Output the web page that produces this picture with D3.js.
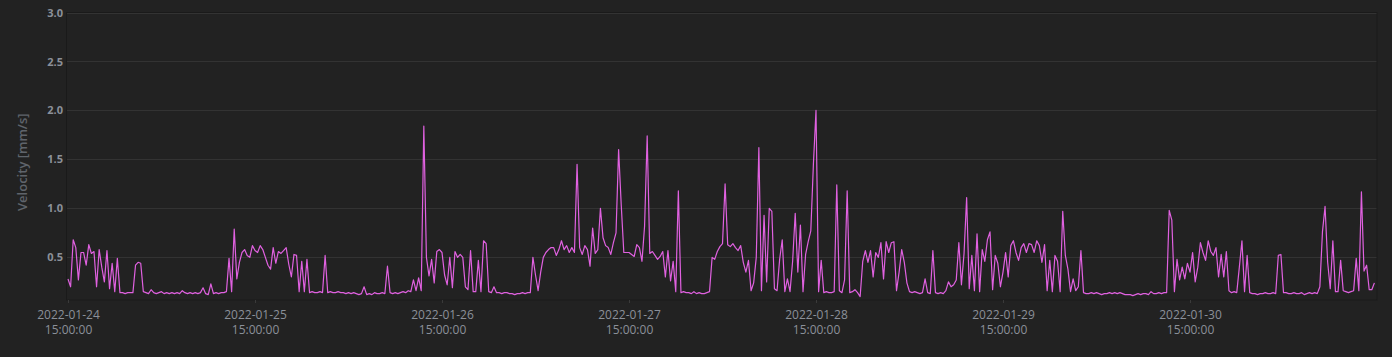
<!DOCTYPE html>
<html><head><meta charset="utf-8">
<script src="https://cdn.jsdelivr.net/npm/d3@7"></script>
<style>
html,body{margin:0;padding:0;background:#222222;}
svg{display:block;}
text{font-family:"Open Sans","Noto Sans",sans-serif;}
</style></head>
<body>
<svg id="c" width="1392" height="357"></svg>
<script>
// 20-minute samples, one array per day starting 15:00
const startTime = "2022-01-24T15:00:00Z";
const stepMinutes = 20;
const day1 = [0.28,0.2,0.68,0.6,0.27,0.55,0.55,0.42,0.63,0.54,0.56,0.2,0.58,0.4,0.25,0.57,0.18,0.44,0.15,0.49,0.14,0.14,0.13,0.14,0.14,0.14,0.42,0.45,0.44,0.15,0.14,0.13,0.17,0.14,0.13,0.14,0.15,0.13,0.14,0.13,0.14,0.13,0.14,0.13,0.16,0.14,0.13,0.14,0.13,0.14,0.13,0.14,0.19,0.13,0.12,0.23,0.13,0.14,0.13,0.14,0.14,0.15,0.49,0.15,0.79,0.28,0.45,0.55,0.58,0.52,0.5,0.62];
const day2 = [0.57,0.55,0.62,0.58,0.5,0.42,0.38,0.6,0.44,0.56,0.54,0.57,0.6,0.43,0.3,0.53,0.52,0.15,0.46,0.15,0.48,0.14,0.15,0.14,0.14,0.15,0.14,0.52,0.14,0.15,0.14,0.14,0.15,0.14,0.14,0.13,0.14,0.13,0.14,0.13,0.12,0.13,0.2,0.12,0.13,0.12,0.14,0.13,0.13,0.14,0.13,0.41,0.14,0.13,0.14,0.13,0.14,0.15,0.14,0.16,0.15,0.27,0.16,0.29,0.16,1.84,0.5,0.31,0.48,0.24,0.56,0.58];
const day3 = [0.55,0.32,0.22,0.5,0.19,0.56,0.5,0.53,0.5,0.2,0.17,0.57,0.15,0.15,0.47,0.15,0.67,0.64,0.15,0.14,0.2,0.14,0.14,0.13,0.14,0.14,0.13,0.13,0.12,0.13,0.13,0.14,0.13,0.14,0.14,0.5,0.32,0.16,0.35,0.5,0.55,0.58,0.6,0.6,0.52,0.58,0.67,0.58,0.62,0.55,0.6,0.55,1.45,0.6,0.53,0.62,0.58,0.41,0.8,0.54,0.58,1.0,0.7,0.62,0.6,0.53,0.65,0.75,1.6,1.04,0.55,0.55];
const day4 = [0.55,0.53,0.51,0.63,0.6,0.46,0.82,1.74,0.54,0.56,0.52,0.48,0.51,0.56,0.3,0.57,0.26,0.46,0.15,1.18,0.14,0.15,0.14,0.14,0.13,0.15,0.13,0.14,0.13,0.13,0.14,0.15,0.5,0.48,0.56,0.61,0.64,1.25,0.63,0.61,0.64,0.6,0.57,0.62,0.45,0.35,0.47,0.16,0.24,0.5,1.62,0.16,0.93,0.25,1.0,0.97,0.18,0.16,0.48,0.68,0.15,0.28,0.15,0.46,0.95,0.35,0.83,0.15,0.53,0.66,0.77,1.45];
const day5 = [2.0,0.15,0.47,0.14,0.15,0.14,0.14,0.15,1.24,0.16,0.14,0.27,1.18,0.14,0.15,0.17,0.14,0.1,0.46,0.57,0.45,0.57,0.3,0.55,0.5,0.65,0.28,0.66,0.55,0.65,0.66,0.16,0.35,0.58,0.45,0.24,0.15,0.14,0.15,0.14,0.13,0.14,0.28,0.14,0.13,0.57,0.14,0.13,0.14,0.13,0.16,0.25,0.2,0.22,0.27,0.65,0.22,0.54,1.11,0.18,0.52,0.16,0.74,0.15,0.58,0.46,0.68,0.76,0.17,0.52,0.44,0.2];
const day6 = [0.35,0.55,0.3,0.62,0.67,0.55,0.47,0.6,0.64,0.55,0.64,0.63,0.55,0.67,0.62,0.45,0.63,0.16,0.47,0.15,0.52,0.46,0.15,0.97,0.52,0.38,0.15,0.28,0.16,0.2,0.57,0.14,0.13,0.13,0.14,0.13,0.14,0.13,0.12,0.13,0.13,0.14,0.13,0.14,0.13,0.14,0.13,0.12,0.12,0.12,0.11,0.12,0.13,0.12,0.13,0.13,0.12,0.15,0.13,0.13,0.14,0.13,0.14,0.14,0.98,0.88,0.15,0.48,0.27,0.4,0.28,0.44];
const day7 = [0.35,0.55,0.25,0.4,0.65,0.55,0.47,0.67,0.56,0.52,0.6,0.3,0.53,0.3,0.56,0.16,0.14,0.15,0.14,0.4,0.67,0.15,0.52,0.14,0.13,0.13,0.12,0.13,0.13,0.14,0.13,0.13,0.14,0.13,0.52,0.53,0.14,0.14,0.13,0.13,0.14,0.13,0.13,0.14,0.12,0.13,0.14,0.13,0.14,0.13,0.2,0.76,1.02,0.45,0.18,0.67,0.15,0.15,0.47,0.16,0.15,0.14,0.15,0.16,0.49,0.16,1.17,0.36,0.42,0.17,0.17,0.24];
const days = [day1, day2, day3, day4, day5, day6, day7];
const yTicks = [0.5, 1.0, 1.5, 2.0, 2.5, 3.0];
const xTickDates = ["2022-01-24","2022-01-25","2022-01-26","2022-01-27","2022-01-28","2022-01-29","2022-01-30"];
const xTickTime = "15:00:00";
const yTitle = "Velocity [mm/s]";

const t0 = new Date(startTime);
const data = [];
days.forEach((arr, d) => arr.forEach((v, i) => {
  data.push({t: new Date(t0.getTime() + (d*24*60 + i*stepMinutes)*60000), v});
}));

const svg = d3.select("#c");
const L = 68, R = 1377, T = 12.5, B = 300;
const x = d3.scaleUtc().domain([t0, new Date(t0.getTime() + 7*864e5)]).range([L, R]);
const y = d3.scaleLinear().domain([0.065, 3.0]).range([B, T]);

// grid
svg.append("g").selectAll("line").data(yTicks).join("line")
  .attr("x1", L-1).attr("x2", R).attr("y1", d => Math.round(y(d))+0.5).attr("y2", d => Math.round(y(d))+0.5)
  .attr("stroke", "#333333").attr("stroke-width", 1);

// frame
svg.append("rect").attr("x", L-1.5).attr("y", T).attr("width", R-L+1.5).attr("height", B-T)
  .attr("fill", "none").attr("stroke", "#1a1a1a").attr("stroke-width", 1);

// y axis labels
const yAxis = d3.axisLeft(y).tickValues(yTicks).tickFormat(d3.format(".1f")).tickSize(0).tickPadding(4);
const ya = svg.append("g").attr("transform", `translate(${L-1},0)`).call(yAxis);
ya.select(".domain").remove();
ya.selectAll("text").attr("fill", "#8b9099").attr("font-size", "11px").attr("font-weight", "bold")
  .style("font-family", "'Open Sans',sans-serif");

// y title
svg.append("text").attr("transform", `translate(27,${(T+B)/2+6}) rotate(-90)`)
  .attr("text-anchor", "middle").attr("fill", "#5f646b").attr("font-size", "13px").attr("font-weight", "600")
  .text(yTitle);

// x axis
const xTicks = xTickDates.map(s => new Date(s + "T15:00:00Z"));
const xAxis = d3.axisBottom(x).tickValues(xTicks).tickFormat(() => "").tickSize(3);
const xa = svg.append("g").attr("transform", `translate(0,${B})`).call(xAxis);
xa.select(".domain").remove();
xa.selectAll(".tick line").attr("stroke", "#3a3a3a");
xa.selectAll(".tick").each(function(d, i) {
  const t = d3.select(this).select("text").attr("fill", "#8b9099").attr("font-size", "12px")
    .attr("y", 0).attr("dy", null).style("font-family", "'Open Sans',sans-serif");
  t.append("tspan").attr("x", 0).attr("y", 19).text(xTickDates[i]);
  t.append("tspan").attr("x", 0).attr("y", 34).text(xTickTime);
});

// line
const line = d3.line().x(d => x(d.t)).y(d => y(d.v));
svg.append("path").datum(data).attr("d", line)
  .attr("fill", "none").attr("stroke", "#e061e0").attr("stroke-width", 1.2).attr("stroke-linejoin", "round");
</script>
</body></html>
